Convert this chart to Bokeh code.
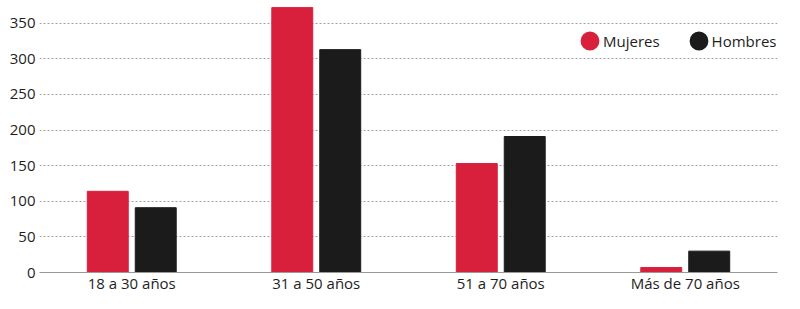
from bokeh.plotting import figure
from bokeh.models import (ColumnDataSource, Range1d, FactorRange, FixedTicker,
                          Legend, LegendItem)
from bokeh.transform import dodge
from bokeh.embed import file_html
from bokeh.resources import INLINE

categories = ["18 a 30 años", "31 a 50 años", "51 a 70 años", "Más de 70 años"]
mujeres = [114, 372, 153, 7]
hombres = [91, 313, 191, 30]
y_ticks = [0, 50, 100, 150, 200, 250, 300, 350]

RED = "#D8203D"
BLACK = "#1b1b1b"
FONT = "Open Sans"
TXT = "#1e1e1e"

src = ColumnDataSource(dict(cat=categories, mujeres=mujeres, hombres=hombres))

p = figure(width=800, height=309, x_range=FactorRange(*categories, range_padding=0),
           y_range=Range1d(0, 382), output_backend="svg", toolbar_location=None,
           min_border_left=39, min_border_right=23, min_border_top=0, min_border_bottom=37)

p.vbar(x=dodge("cat", -0.13, range=p.x_range), top="mujeres", width=0.222,
       source=src, color=RED)
p.vbar(x=dodge("cat", 0.13, range=p.x_range), top="hombres", width=0.222,
       source=src, color=BLACK)

# legend-only renderers: mapped onto a range where they fall outside the frame
p.extra_y_ranges = {"legend_only": Range1d(10000, 20000)}
rm = p.scatter(x="cat", y="mujeres", source=src, y_range_name="legend_only",
               color=RED, line_width=8)
rh = p.scatter(x="cat", y="hombres", source=src, y_range_name="legend_only",
               color=BLACK, line_width=8)
legend = Legend(items=[LegendItem(label="Mujeres", renderers=[rm], index=0),
                       LegendItem(label="Hombres", renderers=[rh], index=0)],
                orientation="horizontal", location=(537, 218),
                glyph_width=27, glyph_height=27, label_standoff=0, spacing=25,
                padding=0, margin=0, border_line_alpha=0, background_fill_alpha=0,
                label_text_font=FONT, label_text_font_size="15px",
                label_text_color=TXT)
p.add_layout(legend, "center")

p.outline_line_color = None
p.background_fill_color = "white"
p.border_fill_color = "white"

p.xgrid.grid_line_color = None
p.ygrid.ticker = FixedTicker(ticks=y_ticks[1:])
p.ygrid.grid_line_color = "#a0a0a0"
p.ygrid.grid_line_dash = "2 2"
p.ygrid.grid_line_width = 1

p.yaxis.ticker = FixedTicker(ticks=y_ticks)
p.yaxis.axis_line_color = None
p.yaxis.major_tick_line_color = None
p.yaxis.minor_tick_line_color = None
p.yaxis.major_tick_out = 0
p.yaxis.major_tick_in = 0
p.yaxis.minor_tick_out = 0
p.yaxis.major_label_standoff = 4
p.yaxis.major_label_text_font = FONT
p.yaxis.major_label_text_font_size = "15px"
p.yaxis.major_label_text_color = TXT

p.xaxis.axis_line_color = "#999999"
p.xaxis.axis_line_width = 1
p.xaxis.major_tick_line_color = None
p.xaxis.minor_tick_line_color = None
p.xaxis.major_tick_out = 0
p.xaxis.major_tick_in = 0
p.xaxis.minor_tick_out = 0
p.xaxis.major_label_standoff = 0
p.xaxis.major_label_text_font = FONT
p.xaxis.major_label_text_font_size = "15px"
p.xaxis.major_label_text_color = TXT

open("out.html", "w").write(file_html(p, INLINE))
